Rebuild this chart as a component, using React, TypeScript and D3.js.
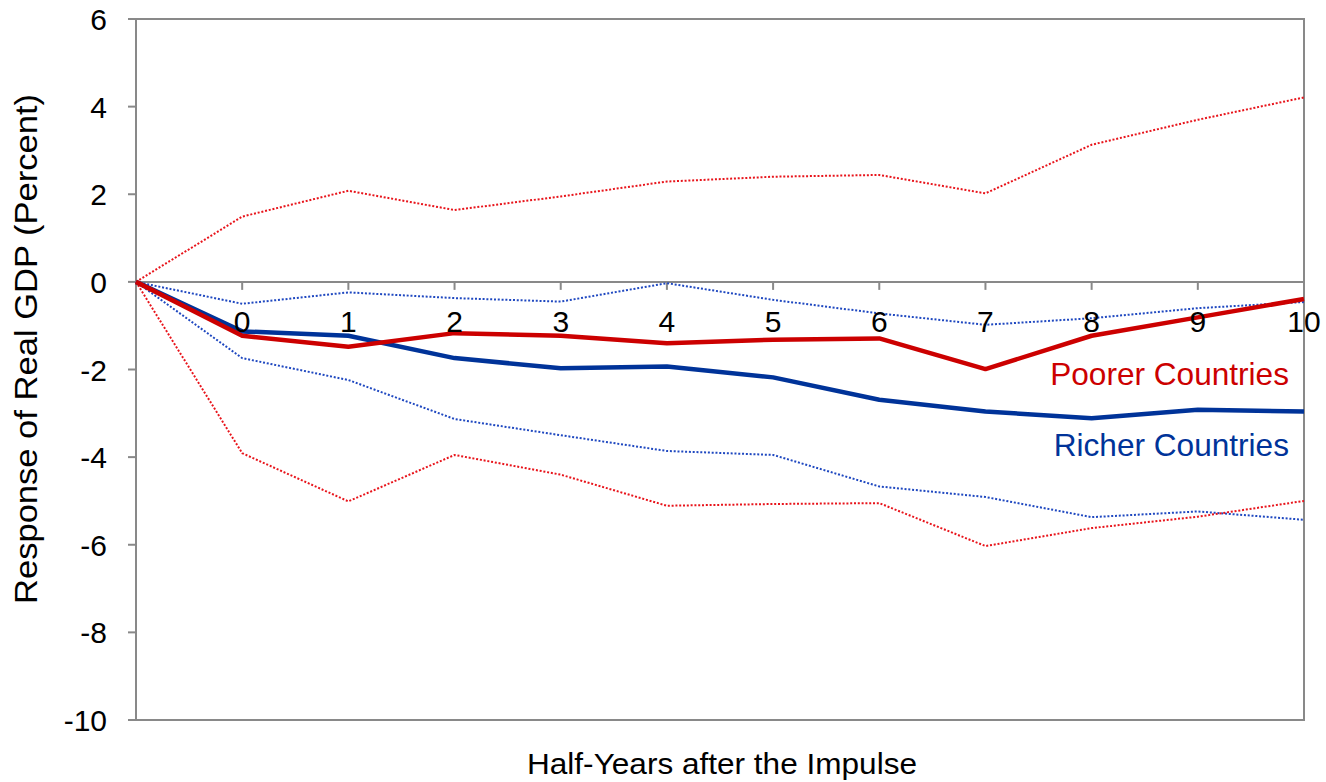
import React from "react";
import * as d3 from "d3";

// Categories: first point is the origin (no label), then half-years 0..10
const periods = ["start", "0", "1", "2", "3", "4", "5", "6", "7", "8", "9", "10"];
const periodLabels = ["", "0", "1", "2", "3", "4", "5", "6", "7", "8", "9", "10"];

const poorer = [0, -1.23, -1.48, -1.17, -1.23, -1.4, -1.32, -1.29, -1.99, -1.23, -0.81, -0.39];
const poorerUpper = [0, 1.49, 2.08, 1.64, 1.95, 2.29, 2.4, 2.44, 2.02, 3.13, 3.7, 4.21];
const poorerLower = [0, -3.91, -5.01, -3.95, -4.4, -5.11, -5.07, -5.05, -6.03, -5.62, -5.36, -5.0];

const richer = [0, -1.13, -1.23, -1.74, -1.97, -1.93, -2.18, -2.69, -2.96, -3.11, -2.92, -2.96];
const richerUpper = [0, -0.5, -0.24, -0.37, -0.45, -0.03, -0.41, -0.72, -0.98, -0.83, -0.6, -0.46];
const richerLower = [0, -1.74, -2.24, -3.13, -3.5, -3.86, -3.95, -4.67, -4.91, -5.37, -5.24, -5.43];

const yTicks = [6, 4, 2, 0, -2, -4, -6, -8, -10];

const W = 1326;
const H = 782;
const left = 136;
const right = 1304;
const top = 19;
const bottom = 720;

const FONT = "'Liberation Sans', Arial, Helvetica, sans-serif";
const AXIS = "#898989";
const RED = "#CC0000";
const RED_DOT = "#E8141B";
const BLUE = "#003399";
const BLUE_DOT = "#1F48C0";

export default function App() {
  const x = d3.scalePoint<string>().domain(periods).range([left, right]);
  const y = d3.scaleLinear().domain([-10, 6]).range([bottom, top]);
  const line = d3
    .line<number>()
    .x((_, i) => x(periods[i]) as number)
    .y((d) => y(d));

  const y0 = y(0);

  return (
    <svg
      width={W}
      height={H}
      style={{ position: "absolute", left: 0, top: 0, background: "#fff" }}
      fontFamily={FONT}
    >
      {/* plot frame */}
      <rect x={left} y={top} width={right - left} height={bottom - top} fill="none" stroke={AXIS} strokeWidth={2} />

      {/* y ticks and labels */}
      {yTicks.map((t) => (
        <g key={t}>
          <line x1={left - 8} x2={left} y1={y(t)} y2={y(t)} stroke={AXIS} strokeWidth={2} />
          <text x={107} y={y(t) + 11} textAnchor="end" fontSize={30} fill="#000">
            {t}
          </text>
        </g>
      ))}

      {/* horizontal zero axis with ticks */}
      <line x1={left} x2={right} y1={y0} y2={y0} stroke={AXIS} strokeWidth={2} />
      {periods.slice(1).map((p) => (
        <line key={p} x1={x(p)} x2={x(p)} y1={y0} y2={y0 + 8} stroke={AXIS} strokeWidth={2} />
      ))}

      {/* confidence bands (dotted) */}
      {[richerUpper, richerLower].map((s, k) => (
        <path key={"rb" + k} d={line(s) || ""} fill="none" stroke={BLUE_DOT} strokeWidth={2} strokeDasharray="2 1.8" />
      ))}
      {[poorerUpper, poorerLower].map((s, k) => (
        <path key={"pb" + k} d={line(s) || ""} fill="none" stroke={RED_DOT} strokeWidth={2} strokeDasharray="2 1.8" />
      ))}

      {/* main responses */}
      <path d={line(richer) || ""} fill="none" stroke={BLUE} strokeWidth={4.5} strokeLinejoin="round" />
      <path d={line(poorer) || ""} fill="none" stroke={RED} strokeWidth={4.5} strokeLinejoin="round" />

      {/* category labels */}
      {periods.map((p, i) => (
        <text key={"l" + p} x={x(p)} y={332} textAnchor="middle" fontSize={30} fill="#000">
          {periodLabels[i]}
        </text>
      ))}

      {/* series labels */}
      <text x={1289} y={385} textAnchor="end" fontSize={31.6} fill={RED}>
        Poorer Countries
      </text>
      <text x={1289} y={456} textAnchor="end" fontSize={31.6} fill={BLUE}>
        Richer Countries
      </text>

      {/* axis titles */}
      <text
        x={722}
        y={774}
        textAnchor="middle"
        fontSize={30}
        fill="#000"
        textLength={390}
        lengthAdjust="spacingAndGlyphs"
      >
        Half-Years after the Impulse
      </text>
      <text
        transform="translate(37,349) rotate(-90)"
        textAnchor="middle"
        fontSize={30.5}
        fill="#000"
        textLength={510}
        lengthAdjust="spacingAndGlyphs"
      >
        Response of Real GDP (Percent)
      </text>
    </svg>
  );
}
